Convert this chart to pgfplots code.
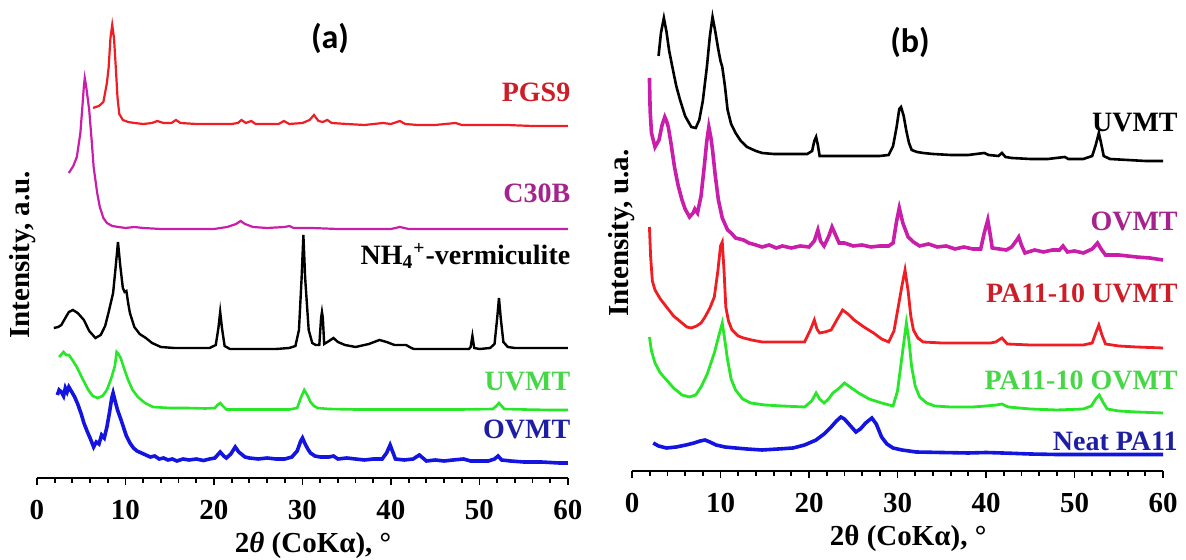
\documentclass[border=0pt]{standalone}
\usepackage{pgfplots}
\pgfplotsset{compat=1.18}
\usepackage{fontspec}
\setmainfont{Liberation Serif}
\newfontfamily\titlefont{Carlito}
\definecolor{cred}{RGB}{240,30,35}
\definecolor{cmag}{RGB}{200,30,170}
\definecolor{cgreen}{RGB}{40,230,40}
\definecolor{cblue}{RGB}{20,20,225}
\definecolor{lred}{RGB}{205,30,40}
\definecolor{lmag}{RGB}{165,35,140}
\definecolor{lgreen}{RGB}{70,215,70}
\definecolor{lblue}{RGB}{30,30,165}
\tikzset{lab/.style={font=\rmfamily\bfseries\fontsize{14}{14}\selectfont, anchor=east, inner sep=0pt},
  ylab/.style={font=\rmfamily\bfseries\fontsize{14.5}{14.5}\selectfont, rotate=90, anchor=center, inner sep=0pt}}
\pgfplotsset{
  xrdaxis/.style={
    scale only axis, anchor=south west, clip=false,
    width=265.5pt,
    xmin=0, xmax=60, ymin=0,
    axis x line=bottom, axis y line=none,
    axis line style={line width=1.1pt, -},
    xtick={0,10,...,60}, minor x tick num=4,
    tick align=outside,
    major tick length=3.5pt, minor tick length=2.5pt,
    every tick/.style={black, line width=0.9pt},
    /pgf/number format/assume math mode=true,
    xticklabel style={font=\rmfamily\bfseries\fontsize{14.5}{14.5}\selectfont, anchor=base, yshift=-17.25pt},
    xlabel style={font=\rmfamily\bfseries\fontsize{14.5}{14.5}\selectfont, at={(axis description cs:0.52,0)}, anchor=base, yshift=-37.5pt},
  },
}
\begin{document}
\begin{tikzpicture}
\useasboundingbox (0,0) rectangle (593pt,280pt);
% ---------------- panel (a)
\begin{axis}[xrdaxis, at={(18.5pt,41pt)}, height=239pt, ymax=478,
  xlabel={2\textit{θ} (CoKα), °}]
\addplot[cred, line width=1.1pt] coordinates {(6.33,370)(7.0,372)(7.5,376)(7.9,395)(8.1,411)(8.3,440)(8.5,453)(8.7,440)(8.9,411)(9.1,380)(9.3,364)(9.7,358)(10.3,356)(11,355)(12,354)(13,355)(13.6,357)(14.3,355)(15.2,355)(15.7,358)(16.2,355)(18,354)(20,354)(22,354)(22.7,355)(23.1,358)(23.6,355)(24.2,357)(24.7,354)(26,354)(27.3,354)(27.9,357)(28.5,354)(30,355)(30.8,358)(31.3,363)(31.8,357)(32.3,356)(32.8,358)(33.3,355)(35,354)(37,353)(39.1,355)(40,354)(41,357)(41.6,354)(43,353)(45,353)(47.3,355)(48,353)(50,353)(53,353)(56,352)(60,352)};
\addplot[cmag, line width=1.1pt] coordinates {(3.6,305)(4.1,312)(4.5,321)(4.9,345)(5.1,368)(5.3,392)(5.4,400)(5.55,392)(5.9,368)(6.2,335)(6.4,311)(6.8,285)(7.1,271)(7.5,260)(7.9,255)(8.5,252)(9.2,251)(10,250)(11,251)(12,250)(14,249)(16,249)(18,249)(20,249)(21.5,251)(22.5,254)(23,257)(23.5,254)(24.4,251)(26,250)(28,251)(28.5,252)(29,250)(31,250)(34,249)(37,249)(40,249)(41,251)(42,249)(45,249)(50,249)(55,249)(60,249)};
\addplot[black, line width=1.2pt] coordinates {(1.9,150)(2.4,151)(2.75,153)(3.2,160)(3.6,166)(4.05,168)(4.6,165)(5.3,158)(5.9,147)(6.6,140)(7.2,143)(7.7,152)(8.1,166)(8.6,185)(8.9,212)(9.15,236)(9.4,213)(9.7,190)(9.9,186)(10.1,187)(10.3,175)(10.5,165)(11,151)(11.6,144)(12.3,140)(13,135)(14,131)(15.5,130)(17.5,130)(19.5,130)(20.2,133)(20.5,150)(20.7,166)(20.9,150)(21.2,132)(21.8,129)(22.6,129)(25,129)(27,129)(28.5,130)(29.2,132)(29.6,148)(29.9,200)(30.1,243)(30.3,200)(30.7,148)(31.1,135)(31.5,133)(31.9,133)(32.1,160)(32.2,166)(32.3,160)(32.45,134)(33,137)(33.5,140)(34,136)(34.8,133)(36,131)(37.5,134)(38.7,138)(39.5,136)(40.4,133)(41.2,133)(41.7,133)(42.3,130)(42.6,129)(44,129)(46,129)(48.8,129)(49.0,131)(49.2,142)(49.4,130)(50,129)(51.2,130)(51.7,134)(52.0,160)(52.2,180)(52.4,160)(52.7,136)(53.2,131)(54,130)(56,130)(58,130)(60,130)};
\addplot[cgreen, line width=1.3pt] coordinates {(2.5,121)(2.8,124)(3.0,126)(3.3,123)(3.6,123)(4.0,118)(4.5,111)(5.1,100)(5.8,88)(6.3,82)(6.85,80)(7.4,82)(7.9,88)(8.4,100)(8.8,112)(9.0,126)(9.2,124)(9.45,120)(9.9,108)(10.3,98)(10.8,88)(11.4,81)(12.2,75)(13.1,71)(15,70)(17,70)(19,69.5)(20.1,70)(20.4,73)(20.7,75)(21.0,72)(21.4,68.5)(23,68.5)(26,68.5)(28.5,68.5)(29.4,70)(29.8,80)(30.2,88)(30.6,82)(30.9,76)(31.3,72)(31.7,70)(33,69)(36,68.5)(39.1,68.5)(42,68.5)(45,68.5)(48,68.5)(51.5,69)(51.9,72)(52.2,75)(52.5,72)(52.8,69)(55,68.5)(58,68)(60,68)};
\addplot[cblue, line width=1.8pt] coordinates {(2.3,83)(2.5,88)(2.75,86)(3.0,82)(3.2,90)(3.4,86)(3.6,91)(3.8,88)(4.0,85)(4.26,81)(4.6,74)(5.0,64)(5.3,55)(5.7,46)(6.0,40)(6.4,31)(6.7,36)(7.0,34)(7.3,43)(7.6,40)(7.9,51)(8.2,66)(8.45,80)(8.6,85)(8.8,78)(9.1,68)(9.5,58)(9.8,50)(10.1,42)(10.5,35)(10.9,30)(11.3,27)(11.8,25)(12.3,23)(12.8,21)(13.3,22)(13.8,19)(14.3,20)(14.8,18)(15.3,19)(15.8,17)(16.5,19)(17.2,18)(18,19)(18.8,17.5)(19.5,19)(20.1,20)(20.7,26)(21.1,22)(21.4,20)(21.9,24)(22.4,31)(22.8,26)(23.5,21)(24,20)(25,19)(26,20)(27,19)(28,19)(28.8,21)(29.4,27)(29.8,37)(30.0,40)(30.3,34)(30.6,29)(30.9,25)(31.4,22)(32,21)(33,21)(33.5,22)(34,19)(35,20)(36,19)(37,18)(38,19)(39,19)(39.5,25)(39.9,33)(40.2,26)(40.5,19)(41.5,18)(42.5,19)(43.2,23)(43.6,20)(44,17)(45,18)(46,17)(47,18)(48.2,19)(49,17)(50,17)(51,17)(51.7,19)(52.1,22)(52.5,18)(53.5,17)(55,16)(57,16)(59,15)(60,15)};
\node[lab, text=lred] at (axis cs:60.3,386) {PGS9};
\node[lab, text=lmag] at (axis cs:60.3,285) {C30B};
\node[lab, text=black] at (axis cs:60.3,222) {NH\textsubscript{4}\textsuperscript{+}-vermiculite};
\node[lab, text=lgreen] at (axis cs:60.3,96) {UVMT};
\node[lab, text=lblue] at (axis cs:60.3,49) {OVMT};
\node[ylab] at (axis description cs:-0.028,0.467) {Intensity, a.u.};
\end{axis}
% ---------------- panel (b)
\begin{axis}[xrdaxis, at={(316pt,44.5pt)}, height=235.5pt, ymax=471,
  xlabel={2θ (CoKα), °}]
\addplot[black, line width=1.3pt] coordinates {(3.0,415)(3.27,438)(3.6,453)(3.9,439)(4.2,420)(4.56,404)(5.0,385)(5.43,371)(6.0,355)(6.7,344)(7.2,343)(7.6,351)(8.0,370)(8.46,404)(8.8,435)(9.1,454)(9.4,440)(9.76,421)(10.0,410)(10.2,404)(10.5,385)(10.8,361)(11.2,347)(11.7,338)(12.3,330)(13.0,324)(14.0,320)(14.7,318)(16,317)(18,317)(19.8,317)(20.35,320)(20.6,330)(20.8,334)(21.0,326)(21.2,315)(22,315)(24,315)(26,315)(28,315)(29.0,316)(29.5,325)(29.9,344)(30.2,362)(30.4,364)(30.7,355)(31.0,340)(31.3,328)(31.6,321)(32.2,319)(32.9,318)(34,317)(36,316)(38,316)(39.8,318)(40.3,316)(41.4,315)(41.8,318)(42.2,314)(42.9,313)(45,312)(47,312)(48.9,314)(49.3,312)(51,312)(52.0,315)(52.4,326)(52.75,338)(53.0,328)(53.3,315)(54,312)(56,311)(58,310)(60,310)};
\addplot[cmag, line width=1.8pt] coordinates {(1.97,393)(2.05,360)(2.2,338)(2.6,324)(3.05,331)(3.4,346)(3.7,354)(3.9,350)(4.1,344)(4.4,328)(4.8,304)(5.2,286)(5.65,271)(6.0,262)(6.5,254)(6.9,258)(7.1,262)(7.4,258)(7.8,275)(8.16,304)(8.45,330)(8.68,344)(8.9,334)(9.1,321)(9.4,296)(9.76,271)(10.2,253)(10.8,241)(11.2,238)(11.7,233)(12.6,231)(13.2,228)(14.0,226)(14.7,224)(15.5,226)(16.3,223)(17,225)(18,223)(19,225)(20,224)(20.6,230)(21.0,241)(21.3,230)(21.7,225)(22.2,234)(22.6,244)(23.0,236)(23.4,228)(24,228)(25,225)(26,226)(27,224)(28,225)(29,225)(29.5,228)(29.9,250)(30.2,263)(30.6,248)(31.2,234)(31.8,229)(32.5,225)(33.5,227)(34.5,224)(35.5,225)(36.5,222)(37.5,224)(38.5,222)(39.4,222)(39.8,238)(40.2,251)(40.5,235)(40.7,223)(41.5,222)(42.3,221)(42.9,224)(43.4,230)(43.7,234)(44.0,226)(44.4,218)(45.5,221)(46.5,219)(47.5,221)(48.3,221)(48.7,225)(49.2,219)(50,220)(51,218)(52,222)(52.6,228)(53.0,222)(53.5,216)(55,216)(57,214)(58.5,213)(60,211)};
\addplot[cred, line width=1.4pt] coordinates {(1.97,244)(2.1,215)(2.3,190)(2.6,181)(3.2,172)(3.9,164)(4.7,155)(5.65,148)(6.2,144)(6.7,143)(7.3,145)(7.8,148)(8.25,154)(8.8,163)(9.3,174)(9.7,200)(10.0,225)(10.2,229)(10.4,200)(10.6,164)(10.9,150)(11.3,141)(12.0,135)(12.6,133)(13.5,131)(14.7,129)(16,129)(18,129)(19.5,129)(20.15,141)(20.6,151)(20.9,142)(21.2,138)(21.8,139)(22.5,141)(23.2,152)(23.8,161)(24.4,157)(25.1,151)(26.2,144)(27.3,138)(28.2,132)(29.0,129)(29.6,140)(30.0,160)(30.5,185)(30.85,201)(31.2,180)(31.5,155)(31.8,141)(32.3,133)(32.9,129)(35,128)(38,128)(40.5,128)(41.1,129)(41.8,133)(42.4,127)(45,126)(48,126)(51,126)(52.0,128)(52.4,138)(52.75,146)(53.1,136)(53.5,127)(55,125)(57,124)(60,123)};
\addplot[cgreen, line width=1.4pt] coordinates {(1.97,134)(2.2,120)(2.6,108)(3.2,98)(3.9,91)(4.7,83)(5.65,76)(6.5,74)(7.2,76)(7.8,84)(8.5,97)(9.3,118)(9.8,135)(10.2,148)(10.5,130)(10.8,111)(11.2,92)(11.7,81)(12.5,72)(13.4,68)(15,66)(17,65)(19.5,64)(20.3,70)(20.8,78)(21.2,72)(21.7,68)(22.2,72)(22.7,78)(23.3,82)(24.0,88)(24.8,83)(25.6,78)(26.8,72)(28.2,68)(29.5,65)(30.0,80)(30.5,114)(31.0,148)(31.3,130)(31.6,104)(32.0,85)(32.5,74)(33.3,68)(34.2,65)(36,64)(38.5,64)(40,65)(41.2,66)(41.8,67)(42.5,64)(45,62)(48,61)(51,62)(51.9,65)(52.4,72)(52.8,76)(53.2,69)(53.7,62)(55,60)(57,59)(60,58)};
\addplot[cblue, line width=1.8pt] coordinates {(2.4,28)(3.0,25)(3.9,23)(5,24)(6.1,26)(7.0,28)(7.7,30)(8.25,31)(8.8,29)(9.5,26)(10.5,24)(11.7,23)(13,22)(14.7,21)(16.5,22)(18.2,23)(19.5,26)(20.8,31)(21.7,37)(22.5,44)(23.1,50)(23.6,54)(24.0,52)(24.6,46)(25.3,39)(25.8,42)(26.4,48)(27.1,53)(27.6,47)(28.2,34)(28.8,27)(29.5,23)(30.5,21)(32.1,19)(35,18.5)(38,18)(40,18.5)(42.9,17.7)(45,17)(48,16.5)(52,16.5)(56,16.5)(60,16.5)};
\node[lab, text=black] at (axis cs:61.7,348) {UVMT};
\node[lab, text=lmag] at (axis cs:61.7,250) {OVMT};
\node[lab, text=lred] at (axis cs:61.7,178) {PA11-10 UVMT};
\node[lab, text=lgreen] at (axis cs:61.7,91) {PA11-10 OVMT};
\node[lab, text=lblue] at (axis cs:61.7,30) {Neat PA11};
\node[ylab] at (axis description cs:-0.019,0.505) {Intensity, u.a.};
\end{axis}
\node[inner sep=0pt] at (165pt,261pt) {\titlefont\bfseries\fontsize{17}{17}\selectfont (a)};
\node[inner sep=0pt] at (455pt,259pt) {\titlefont\bfseries\fontsize{17}{17}\selectfont (b)};
\end{tikzpicture}
\end{document}
